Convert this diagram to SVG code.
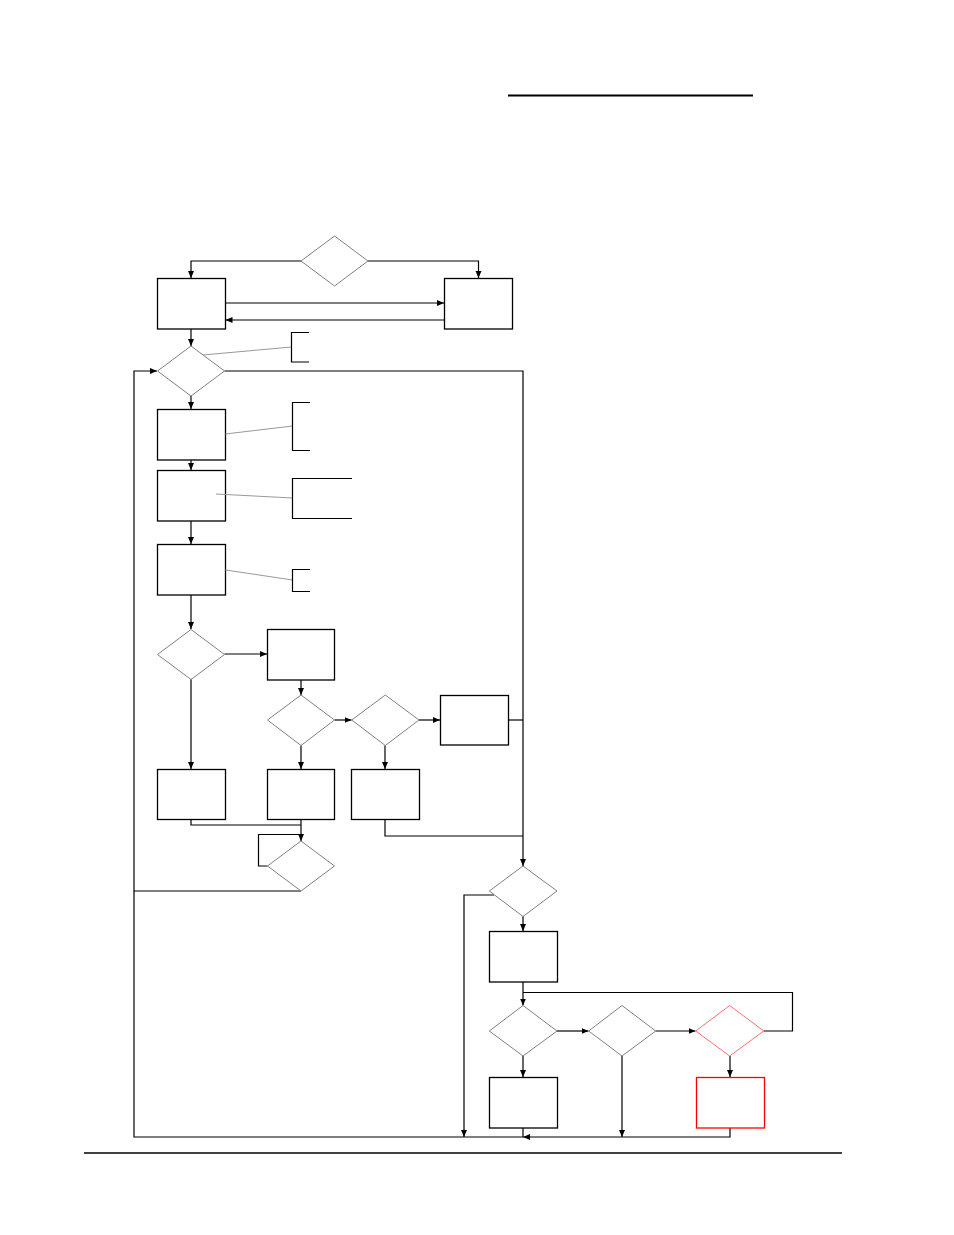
<svg xmlns="http://www.w3.org/2000/svg" width="954" height="1235" viewBox="0 0 954 1235">
<style>
.box{fill:#fff;stroke:#000;stroke-width:1.3}
.boxr{fill:#fff;stroke:#ff0000;stroke-width:1.3}
.dia{fill:#fff;stroke:#808080;stroke-width:1}
.diar{fill:#fff;stroke:#ff7070;stroke-width:1}
.con{fill:none;stroke:#000;stroke-width:1.2}
.arr{marker-end:url(#ah)}
.note{fill:none;stroke:#999;stroke-width:1}
.brk{fill:none;stroke:#000;stroke-width:1.2}
.rule{fill:none;stroke:#000}
</style>
<defs>
<marker id="ah" markerUnits="userSpaceOnUse" markerWidth="8" markerHeight="8" viewBox="0 0 8 8" refX="7" refY="4" orient="auto">
<path d="M0,1 L7,4 L0,7 Z" fill="#000"/>
</marker>
</defs>
<rect width="954" height="1235" fill="#fff"/>
<g id="rules">
<path class="rule" d="M508,95.5 H753" stroke-width="2"/>
<path class="rule" d="M84,1153 H842" stroke-width="1.3"/>
</g>
<g id="connectors">
<path class="con arr" d="M301,261 H191 V278"/>
<path class="con arr" d="M368,261 H478.5 V278"/>
<path class="con arr" d="M225.5,303 H444"/>
<path class="con arr" d="M444,320 H225.5"/>
<path class="con arr" d="M191,329 V346"/>
<path class="con arr" d="M191,396 V409"/>
<path class="con arr" d="M191,460 V470"/>
<path class="con arr" d="M191,521 V544"/>
<path class="con arr" d="M191,595 V629"/>
<path class="con arr" d="M224.5,654 H267"/>
<path class="con arr" d="M301,680 V695"/>
<path class="con arr" d="M334.5,720 H351.5"/>
<path class="con arr" d="M419,720 H440"/>
<path class="con arr" d="M191,679 V769"/>
<path class="con arr" d="M301,745.5 V769"/>
<path class="con arr" d="M385,745.5 V769"/>
<path class="con" d="M191,819 V825 H301"/>
<path class="con arr" d="M301,819 V841"/>
<path class="con" d="M267.5,866 H258.5 V834.5 H301"/>
<path class="con arr" d="M301,891 H134 V371 H157"/>
<path class="con" d="M134,891 V1137 H523"/>
<path class="con arr" d="M224.5,371 H523 V866"/>
<path class="con" d="M508.5,720 H523"/>
<path class="con" d="M385,819 V836 H523"/>
<path class="con arr" d="M494,895 H464 V1137"/>
<path class="con arr" d="M523,916 V931"/>
<path class="con arr" d="M523,982 V1005.5"/>
<path class="con" d="M763.5,1031 H792.5 V992.5 H523"/>
<path class="con arr" d="M557,1031 H588.5"/>
<path class="con arr" d="M655.5,1031 H695.5"/>
<path class="con arr" d="M523,1056 V1077"/>
<path class="con arr" d="M622,1056 V1137"/>
<path class="con arr" d="M730,1056 V1077"/>
<path class="con" d="M523,1128 V1137"/>
<path class="con arr" d="M730,1128 V1137 H523"/>
</g>
<g id="d1"><polygon class="dia" points="334.5,236 368,261 334.5,286 301,261"/></g>
<g id="b1"><rect class="box" x="157.5" y="278.5" width="68" height="50.5"/></g>
<g id="b2"><rect class="box" x="444.5" y="278.5" width="68" height="50.5"/></g>
<g id="d2"><polygon class="dia" points="191,346 224.5,371 191,396 157.5,371"/></g>
<g id="b3"><rect class="box" x="157.5" y="409.5" width="68" height="50.5"/></g>
<g id="b4"><rect class="box" x="157.5" y="470.5" width="68" height="50.5"/></g>
<g id="b5"><rect class="box" x="157.5" y="544.5" width="68" height="50.5"/></g>
<g id="d3"><polygon class="dia" points="191,629.5 224.5,654.5 191,679.5 157.5,654.5"/></g>
<g id="b6"><rect class="box" x="267.5" y="629.5" width="67" height="50.5"/></g>
<g id="d4"><polygon class="dia" points="301,695 334.5,720 301,745.5 267.5,720"/></g>
<g id="d5"><polygon class="dia" points="385.3,695 419,720 385.3,745.5 351.7,720"/></g>
<g id="b7"><rect class="box" x="440.5" y="695.5" width="68" height="49.5"/></g>
<g id="b8"><rect class="box" x="157.5" y="769.5" width="68" height="50"/></g>
<g id="b9"><rect class="box" x="267.5" y="769.5" width="67" height="50"/></g>
<g id="b10"><rect class="box" x="351.5" y="769.5" width="68" height="50"/></g>
<g id="d6"><polygon class="dia" points="301,841 334.5,866 301,891 267.5,866"/></g>
<g id="d7"><polygon class="dia" points="523,866 557,891 523,916.5 489.3,891"/></g>
<g id="b11"><rect class="box" x="489.5" y="931.5" width="68" height="50.5"/></g>
<g id="d8"><polygon class="dia" points="523,1005.5 557,1031 523,1056 489.3,1031"/></g>
<g id="d9"><polygon class="dia" points="622,1005.5 655.7,1031 622,1056 588.7,1031"/></g>
<g id="d10"><polygon class="diar" points="729.7,1005.5 763.7,1031 729.7,1056 695.7,1031"/></g>
<g id="b12"><rect class="box" x="489.5" y="1077.5" width="68" height="50.5"/></g>
<g id="b13"><rect class="boxr" x="696.5" y="1077.5" width="68" height="50.5"/></g>
<g id="notes">
<path class="note" d="M203,355 L291.5,347"/>
<path class="brk" d="M309,332.5 H291.5 V362 H309"/>
<path class="note" d="M225.5,434 L292.5,426"/>
<path class="brk" d="M310,402.5 H292.5 V450.5 H310"/>
<path class="note" d="M216,494 L292.5,498"/>
<path class="brk" d="M352,478.5 H292.5 V518.5 H352"/>
<path class="note" d="M225.5,570 L292.5,580"/>
<path class="brk" d="M310,569.5 H292.5 V591.5 H310"/>
</g>
</svg>
